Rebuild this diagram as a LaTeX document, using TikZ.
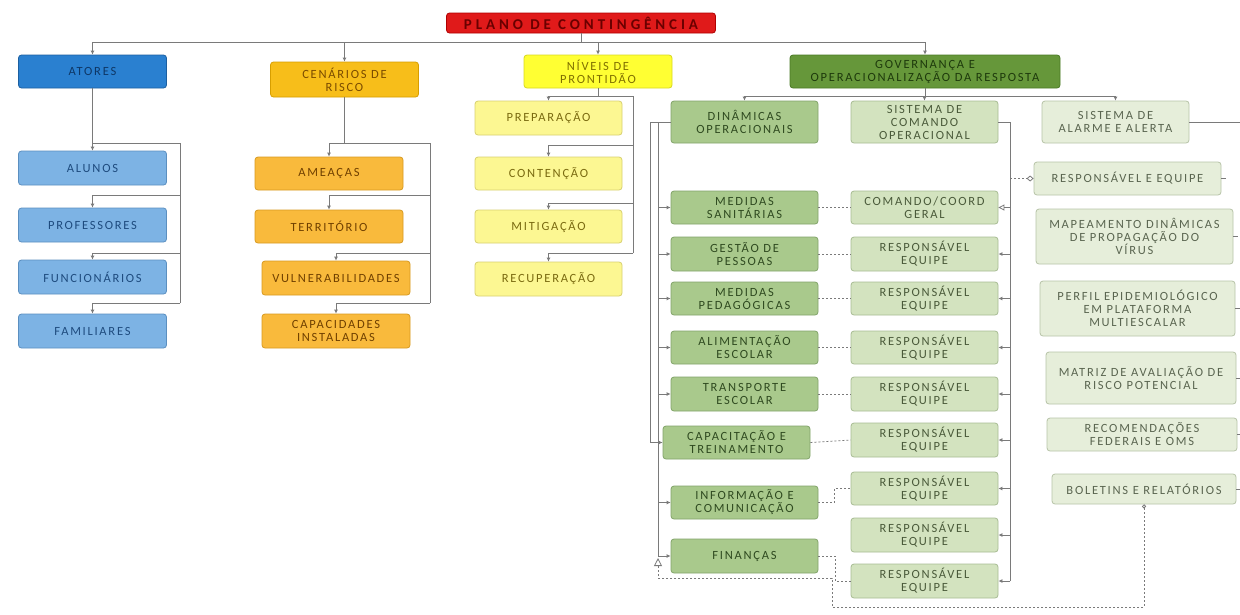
\documentclass[tikz,border=0pt]{standalone}
\usepackage{fontspec}
\setmainfont{Carlito}
\usetikzlibrary{arrows.meta}
\definecolor{tRed}{HTML}{E01A1A}\definecolor{tRedD}{HTML}{B00000}\definecolor{tRedT}{HTML}{6A0000}
\definecolor{aBlue}{HTML}{2A80D0}\definecolor{aBlueD}{HTML}{1C5FA0}\definecolor{aBlueT}{HTML}{0E3766}
\definecolor{lBlue}{HTML}{7DB3E4}\definecolor{lBlueD}{HTML}{5B8FC0}\definecolor{lBlueT}{HTML}{1E4B7E}
\definecolor{cOr}{HTML}{F7BE1A}\definecolor{cOrD}{HTML}{D79E00}\definecolor{cOrT}{HTML}{7A4B00}
\definecolor{lOr}{HTML}{F9BA3C}\definecolor{lOrD}{HTML}{D89A20}\definecolor{lOrT}{HTML}{704000}
\definecolor{nYe}{HTML}{FFFF33}\definecolor{nYeD}{HTML}{D8D820}\definecolor{nYeT}{HTML}{807000}
\definecolor{lYe}{HTML}{FCF792}\definecolor{lYeD}{HTML}{D8D070}\definecolor{lYeT}{HTML}{7A6A10}
\definecolor{gGr}{HTML}{66973A}\definecolor{gGrD}{HTML}{4A7A25}\definecolor{gGrT}{HTML}{1E3A0C}
\definecolor{dGr}{HTML}{A9C98C}\definecolor{dGrD}{HTML}{82A46A}\definecolor{dGrT}{HTML}{2F4A20}
\definecolor{mGr}{HTML}{D3E3BF}\definecolor{mGrD}{HTML}{A8BC94}\definecolor{mGrT}{HTML}{4A5A3A}
\definecolor{rGr}{HTML}{E6EEDA}\definecolor{rGrD}{HTML}{B8C4A8}\definecolor{rGrT}{HTML}{5A6550}
\definecolor{lineG}{HTML}{7A7A7A}
\begin{document}
\begin{tikzpicture}[x=1pt,y=-1pt,
  base/.style={rounded corners=3pt, line width=0.8pt, align=center, inner sep=1pt,
    font=\fontsize{12.5}{13}\selectfont\addfontfeature{LetterSpace=14}, minimum width=148pt, minimum height=34pt},
  titlebox/.style={base, fill=tRed, draw=tRedD, text=tRedT, minimum width=269pt, minimum height=20pt,
    font=\fontsize{15}{15}\selectfont\bfseries\addfontfeature{LetterSpace=26}},
  abox/.style={base, fill=aBlue, draw=aBlueD, text=aBlueT},
  lbbox/.style={base, fill=lBlue, draw=lBlueD, text=lBlueT},
  cbox/.style={base, fill=cOr, draw=cOrD, text=cOrT},
  lobox/.style={base, fill=lOr, draw=lOrD, text=lOrT},
  nbox/.style={base, fill=nYe, draw=nYeD, text=nYeT},
  lybox/.style={base, fill=lYe, draw=lYeD, text=lYeT},
  gbox/.style={base, fill=gGr, draw=gGrD, text=gGrT},
  dbox/.style={base, fill=dGr, draw=dGrD, text=dGrT},
  mbox/.style={base, fill=mGr, draw=mGrD, text=mGrT},
  rbox/.style={base, fill=rGr, draw=rGrD, text=rGrT},
  con/.style={draw=lineG, line width=0.8pt},
  arr/.style={con, -{Latex[length=4pt,width=4pt]}},
  dsh/.style={con, dash pattern=on 2pt off 2pt}
]
\useasboundingbox (0,0) rectangle (1240,614);
\fill[white] (0,0) rectangle (1240,614);

% top level
\node[titlebox] (title) at (581,23) {PLANO DE CONTINGÊNCIA};
\node[abox, minimum height=33pt] (atores) at (92.5,71.5) {ATORES};
\node[cbox, minimum height=35pt] (cenarios) at (344.5,79.5) {CENÁRIOS DE\\RISCO};
\node[nbox, minimum height=33pt] (niveis) at (598,71.5) {NÍVEIS DE\\PRONTIDÃO};
\node[gbox, minimum width=270pt, minimum height=33pt] (gov) at (925,71.5) {GOVERNANÇA E\\OPERACIONALIZAÇÃO DA RESPOSTA};

% atores
\node[lbbox] (alunos) at (92.5,168) {ALUNOS};
\node[lbbox] (professores) at (92.5,225) {PROFESSORES};
\node[lbbox] (funcionarios) at (92.5,277) {FUNCIONÁRIOS};
\node[lbbox] (familiares) at (92.5,331) {FAMILIARES};

% cenarios
\node[lobox, minimum height=33pt] (ameacas) at (329,173.5) {AMEAÇAS};
\node[lobox, minimum height=33pt] (territorio) at (329,226.5) {TERRITÓRIO};
\node[lobox] (vulnerab) at (336,278) {VULNERABILIDADES};
\node[lobox] (capacidades) at (336,331) {CAPACIDADES\\INSTALADAS};

% niveis
\node[lybox, minimum width=147pt] (preparacao) at (548.5,118) {PREPARAÇÃO};
\node[lybox, minimum width=147pt, minimum height=33pt] (contencao) at (548.5,173.5) {CONTENÇÃO};
\node[lybox, minimum width=147pt, minimum height=33pt] (mitigacao) at (548.5,226.5) {MITIGAÇÃO};
\node[lybox, minimum width=147pt] (recuperacao) at (548.5,279) {RECUPERAÇÃO};

% governanca
\node[dbox, minimum width=147pt, minimum height=42pt] (dinamicas) at (744.5,122) {DINÂMICAS\\OPERACIONAIS};
\node[mbox, minimum width=147pt, minimum height=42pt] (sco) at (924.5,122) {SISTEMA DE\\COMANDO\\OPERACIONAL};
\node[rbox, minimum width=147pt, minimum height=42pt] (alarme) at (1115.5,122) {SISTEMA DE\\ALARME E ALERTA};

\node[dbox, minimum width=147pt, minimum height=33pt] (medsan) at (744.5,207.5) {MEDIDAS\\SANITÁRIAS};
\node[dbox, minimum width=147pt] (gestao) at (744.5,254) {GESTÃO DE\\PESSOAS};
\node[dbox, minimum width=147pt, minimum height=33pt] (medped) at (744.5,298.5) {MEDIDAS\\PEDAGÓGICAS};
\node[dbox, minimum width=147pt, minimum height=33pt] (alim) at (744.5,347.5) {ALIMENTAÇÃO\\ESCOLAR};
\node[dbox, minimum width=147pt] (transp) at (744.5,394) {TRANSPORTE\\ESCOLAR};
\node[dbox, minimum width=147pt, minimum height=33pt] (capac) at (736.5,442.5) {CAPACITAÇÃO E\\TREINAMENTO};
\node[dbox, minimum width=147pt, minimum height=33pt] (info) at (744.5,502.5) {INFORMAÇÃO E\\COMUNICAÇÃO};
\node[dbox, minimum width=147pt] (fin) at (744.5,556) {FINANÇAS};

\node[mbox, minimum width=147pt, minimum height=33pt] (cmd) at (924.5,207.5) {COMANDO/COORD\\GERAL};
\node[mbox, minimum width=147pt] (r1) at (924.5,254) {RESPONSÁVEL\\EQUIPE};
\node[mbox, minimum width=147pt, minimum height=33pt] (r2) at (924.5,298.5) {RESPONSÁVEL\\EQUIPE};
\node[mbox, minimum width=147pt, minimum height=33pt] (r3) at (924.5,347.5) {RESPONSÁVEL\\EQUIPE};
\node[mbox, minimum width=147pt] (r4) at (924.5,394) {RESPONSÁVEL\\EQUIPE};
\node[mbox, minimum width=147pt] (r5) at (924.5,440) {RESPONSÁVEL\\EQUIPE};
\node[mbox, minimum width=147pt, minimum height=33pt] (r6) at (924.5,488.5) {RESPONSÁVEL\\EQUIPE};
\node[mbox, minimum width=147pt] (r7) at (924.5,535) {RESPONSÁVEL\\EQUIPE};
\node[mbox, minimum width=147pt] (r8) at (924.5,581) {RESPONSÁVEL\\EQUIPE};

\node[rbox, minimum width=187pt, minimum height=33pt] (respeq) at (1127.5,178.5) {RESPONSÁVEL E EQUIPE};
\node[rbox, minimum width=197pt, minimum height=55pt] (mapeamento) at (1134.5,236.5) {MAPEAMENTO DINÂMICAS\\DE PROPAGAÇÃO DO\\VÍRUS};
\node[rbox, minimum width=195pt, minimum height=55pt] (perfil) at (1137.5,308.5) {PERFIL EPIDEMIOLÓGICO\\EM PLATAFORMA\\MULTIESCALAR};
\node[rbox, minimum width=190pt, minimum height=52pt] (matriz) at (1141,378) {MATRIZ DE AVALIAÇÃO DE\\RISCO POTENCIAL};
\node[rbox, minimum width=190pt, minimum height=33pt] (recomend) at (1142,434.5) {RECOMENDAÇÕES\\FEDERAIS E OMS};
\node[rbox, minimum width=184pt, minimum height=30pt] (boletins) at (1144,489) {BOLETINS E RELATÓRIOS};

% --- connectors: top bus
\coordinate (bus) at (581,42);
\draw[con] (title.south) -- (bus);
\draw[con] (atores.north |- bus) -- (gov.north |- bus);
\foreach \n in {atores,cenarios,niveis,gov} \draw[arr] (\n.north |- bus) -- (\n.north);

% atores
\coordinate (a0) at (180,143);
\coordinate (a1) at (180,195);
\coordinate (a2) at (180,253);
\coordinate (a3) at (180,303);
\draw[arr] (atores.south) -- (alunos.north);
\draw[con] (atores.south |- a0) -- (a0) -- (a3);
\draw[arr] (a1) -| (professores.north);
\draw[arr] (a2) -| (funcionarios.north);
\draw[arr] (a3) -| (familiares.north);

% cenarios
\coordinate (c0) at (430,143);
\coordinate (c1) at (430,195);
\coordinate (c2) at (430,253);
\coordinate (c3) at (430,303);
\draw[con] (cenarios.south) -- (cenarios.south |- c0);
\draw[arr] (c0) -| (ameacas.north);
\draw[con] (c0) -- (c3);
\draw[arr] (c1) -| (territorio.north);
\draw[arr] (c2) -| (vulnerab.north);
\draw[arr] (c3) -| (capacidades.north);

% niveis
\coordinate (n0) at (633,96);
\coordinate (n1) at (633,145);
\coordinate (n2) at (633,203);
\coordinate (n3) at (633,253);
\draw[con] (niveis.south) -- (niveis.south |- n0);
\draw[arr] (n0) -| (preparacao.north);
\draw[con] (n0) -- (n3);
\draw[arr] (n1) -| (contencao.north);
\draw[arr] (n2) -| (mitigacao.north);
\draw[arr] (n3) -| (recuperacao.north);

% governanca
\coordinate (g0) at (925,96);
\draw[con] (gov.south) -- (g0);
\draw[con] (dinamicas.north |- g0) -- (alarme.north |- g0);
\foreach \n in {dinamicas,sco,alarme} \draw[arr] (\n.north |- g0) -- (\n.north);

% dinamicas left
\coordinate (dL1) at (650,122);
\coordinate (dL2) at (658,122);
\coordinate (tri) at (658,558);
\draw[arr] (dinamicas.west) -- (dL1) |- (capac.west);
\draw[con] (dinamicas.west) -- (dL2) -- (dL2 |- fin.west);
\foreach \n in {medsan,gestao,medped,alim,transp,info,fin} \draw[arr] (dL2 |- \n.west) -- (\n.west);

% dashed feedback from boletins
\coordinate (dB) at (832,607);
\coordinate (dC) at (658,578);
\draw[dsh, {Circle[open,length=4pt]}-{Triangle[open,length=8pt,width=8pt]}] (boletins.south) |- (dB) |- (dC) -- (tri);

% sistema de comando right
\coordinate (sR) at (1010,122);
\draw[con] (sco.east) -- (sR) -- (sR |- r8.east);
\draw[con, -{Triangle[open,length=6pt,width=6pt]}] (sR |- cmd.east) -- (cmd.east);
\foreach \n in {r1,r2,r3,r4,r5,r6,r7,r8} \draw[arr] (sR |- \n.east) -- (\n.east);
\draw[dsh, -{Diamond[open,length=7pt,width=6pt]}] (sR |- respeq.west) -- (respeq.west);

% dashed pairs
\draw[dsh] (medsan.east) -- (cmd.west);
\draw[dsh] (gestao.east) -- (r1.west);
\draw[dsh] (medped.east) -- (r2.west);
\draw[dsh] (alim.east) -- (r3.west);
\draw[dsh] (transp.east) -- (r4.west);
\draw[dsh] (capac.east) -- (r5.west);
\draw[dsh] (info.east) -- ++(16,0) |- (r6.west);
\draw[dsh] (fin.east) -- ++(17,0) |- (r8.west);

% right column exits
\draw[con] (alarme.east) -- ++(52,0);
\foreach \n in {respeq,mapeamento,perfil,matriz,recomend,boletins} \draw[con] (\n.east) -- ++(5,0);
\end{tikzpicture}
\end{document}
